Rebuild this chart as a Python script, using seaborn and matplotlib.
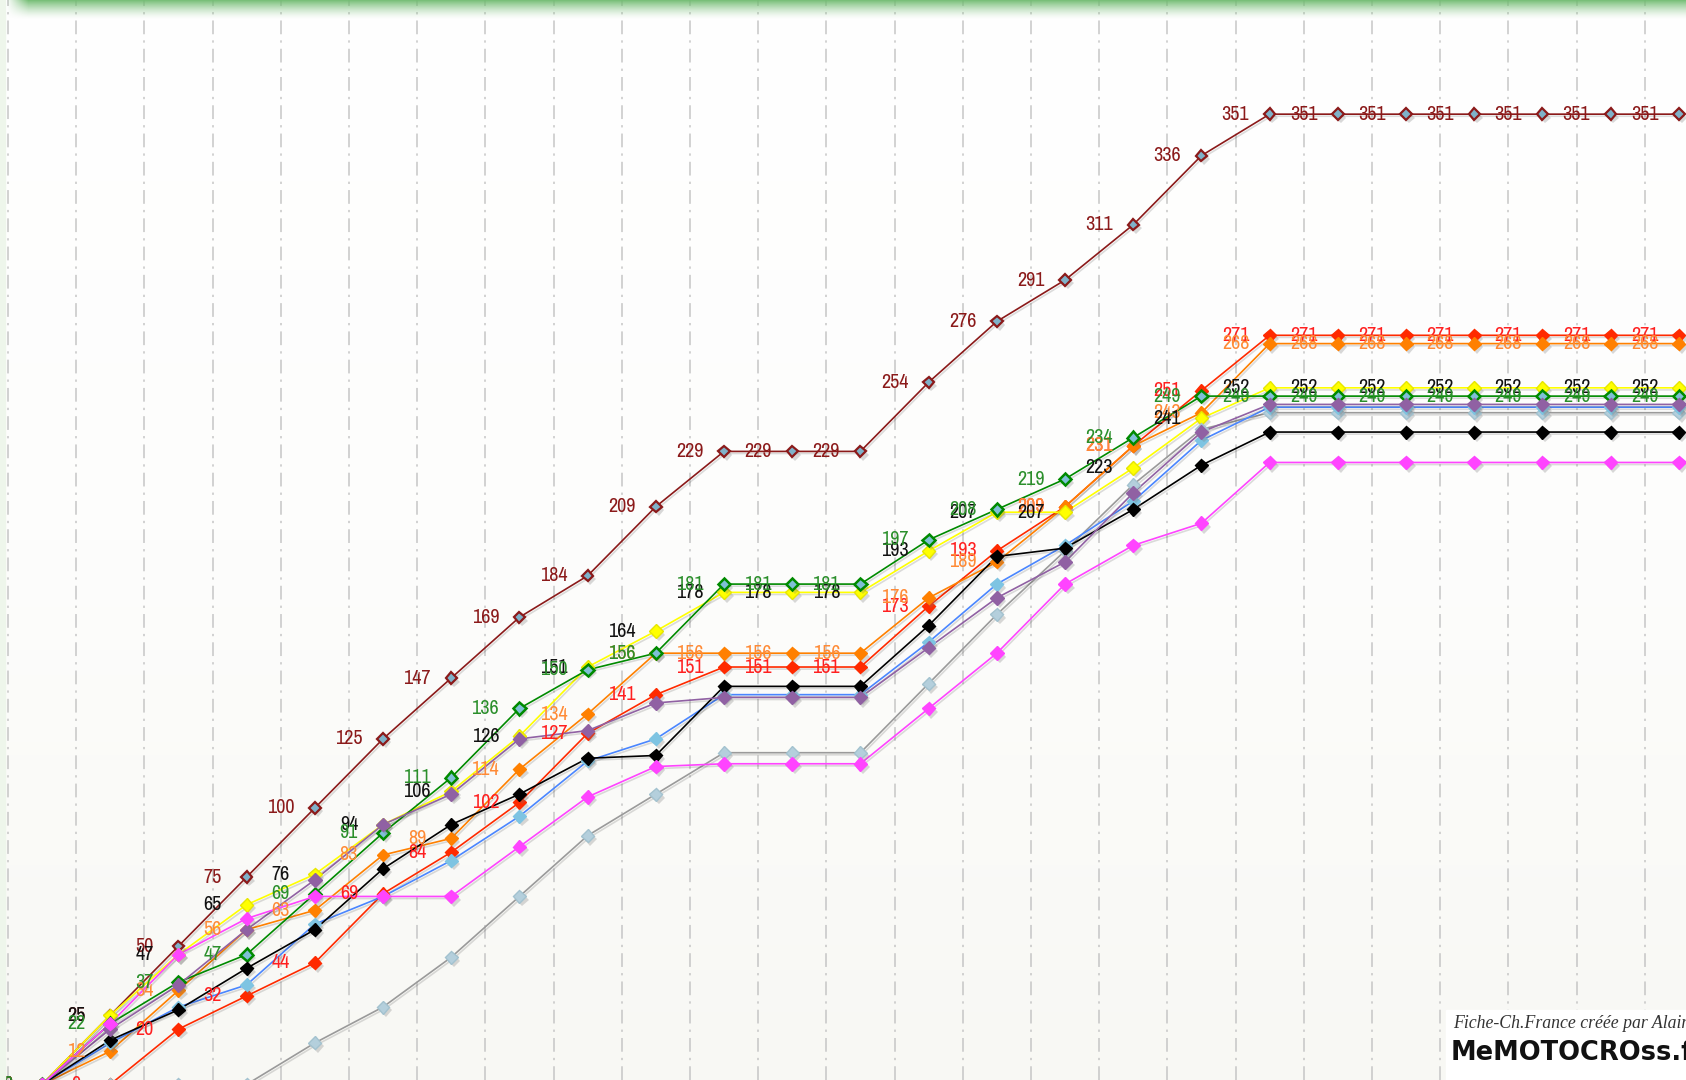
import numpy as np
import matplotlib
matplotlib.use('Agg')
import matplotlib.pyplot as plt
import matplotlib.patheffects as pe
from matplotlib.colors import LinearSegmentedColormap
from matplotlib.patches import Rectangle
import pandas as pd
import seaborn as sns

# cumulative points after each round (round 0 = start)
rounds = list(range(25))

darkred = [0, 25, 50, 75, 100, 125, 147, 169, 184, 209, 229, 229, 229, 254, 276, 291, 311, 336,
           351, 351, 351, 351, 351, 351, 351]
red = [0, 0, 20, 32, 44, 69, 84, 102, 127, 141, 151, 151, 151, 173, 193, 209, 231, 251,
       271, 271, 271, 271, 271, 271, 271]
orange = [0, 12, 34, 56, 63, 83, 89, 114, 134, 156, 156, 156, 156, 176, 189, 209, 231, 243,
          268, 268, 268, 268, 268, 268, 268]
yellow = [0, 25, 47, 65, 76, 94, 106, 126, 151, 164, 178, 178, 178, 193, 207, 207, 223, 241,
          252, 252, 252, 252, 252, 252, 252]
green = [0, 22, 37, 47, 69, 91, 111, 136, 150, 156, 181, 181, 181, 197, 208, 219, 234, 249,
         249, 249, 249, 249, 249, 249, 249]
gray = [0, 0, 0, 0, 15, 28, 46, 68, 90, 105, 120, 120, 120, 145, 170, 193, 217, 237,
        243, 243, 243, 243, 243, 243, 243]
blue = [0, 15, 28, 36, 58, 68, 81, 97, 117, 125, 141, 141, 141, 160, 181, 195, 211, 233,
        245, 245, 245, 245, 245, 245, 245]
black = [0, 16, 27, 42, 56, 78, 94, 105, 118, 119, 144, 144, 144, 166, 191, 194, 208, 224,
         236, 236, 236, 236, 236, 236, 236]
purple = [0, 20, 36, 56, 74, 94, 105, 125, 128, 138, 140, 140, 140, 158, 176, 189, 214, 236,
          246, 246, 246, 246, 246, 246, 246]
magenta = [0, 22, 47, 60, 68, 68, 68, 86, 104, 115, 116, 116, 116, 136, 156, 181, 195, 203,
           225, 225, 225, 225, 225, 225, 225]

# name, values, line colour, marker face, marker edge, marker size, edge width, label colour
series = [
    ('darkred', darkred, '#8b1a1a', '#7fb2c9', '#8b1a1a', 5.8, 1.6, '#8b1a1a'),
    ('red', red, '#ff2a00', '#ff2a00', '#ff2a00', 6.6, 1.0, '#ff2020'),
    ('orange', orange, '#ff8000', '#ff8000', '#ff8000', 6.6, 1.0, '#ff8a35'),
    ('yellow', yellow, '#ffff00', '#ffff00', '#e6e600', 6.9, 1.0, '#111111'),
    ('green', green, '#008a00', '#7fc0d6', '#008a00', 6.3, 1.8, '#2b8f2b'),
    ('gray', gray, '#9a9a9a', '#b4cfdc', '#a3c2cf', 6.6, 1.0, None),
    ('blue', blue, '#4a86ff', '#7ec4e2', '#7ec4e2', 6.6, 1.0, None),
    ('black', black, '#000000', '#000000', '#000000', 6.6, 1.0, None),
    ('purple', purple, '#9061a3', '#9061a3', '#9061a3', 6.9, 1.0, None),
    ('magenta', magenta, '#ff44ff', '#ff44ff', '#ff44ff', 6.9, 1.0, None),
]

sns.set_theme(style='white')
label_fonts = ['Liberation Sans Narrow', 'Arial Narrow', 'Archivo Narrow', 'PT Sans Narrow',
               'Roboto Condensed', 'DejaVu Sans']
plt.rcParams['font.family'] = ['DejaVu Sans']

fig = plt.figure(figsize=(16.86, 10.80), dpi=100)
ax = fig.add_axes([0, 0, 1, 1])

xmin, xmax = -0.616, 24.105
ymin, ymax = 1.6, 392.3

# soft background gradient
bg = LinearSegmentedColormap.from_list('bg', ['#ffffff', '#fdfdfc', '#f8f8f4'])
ax.imshow(np.linspace(0, 1, 256).reshape(-1, 1), extent=[xmin, xmax, ymin, ymax],
          origin='upper', aspect='auto', cmap=bg, zorder=0)

for name, vals, lc, mfc, mec, ms, mew, tc in series:
    df = pd.DataFrame({'round': rounds, 'pts': vals})
    sns.lineplot(data=df, x='round', y='pts', color=lc, lw=1.2, ax=ax, zorder=2,
                 legend=False)
    ax.lines[-1].set_path_effects([pe.SimpleLineShadow(offset=(1, -1.5), alpha=0.15),
                                   pe.Normal()])
    sns.lineplot(data=df, x='round', y='pts', color=lc, linestyle='', marker='D',
                 markersize=ms, markerfacecolor=mfc, markeredgecolor=mec,
                 markeredgewidth=mew, ax=ax, zorder=3, legend=False)
    ax.lines[-1].set_path_effects([pe.SimplePatchShadow(offset=(2, -2.5), alpha=0.28,
                                                        shadow_rgbFace='#777777'),
                                   pe.Normal()])

# value labels sit on the gridline left of each point
for name, vals, lc, mfc, mec, ms, mew, tc in series:
    if tc is None:
        continue
    for r, v in zip(rounds, vals):
        ax.text(r - 0.5, v, str(v), color=tc, fontsize=14.5, family=label_fonts,
                ha='center', va='center', zorder=5)

ax.set_xticks(np.arange(-0.5, 25, 1))
ax.set_yticks([])
ax.set_xlim(xmin, xmax)
ax.set_ylim(ymin, ymax)
ax.grid(axis='x', color='#c6c6c6', lw=1.1, ls=(0, (9, 4, 1.5, 4)), zorder=1)
ax.grid(axis='y', visible=False)
ax.tick_params(axis='x', length=0, labelbottom=False)
ax.set_xlabel('')
ax.set_ylabel('')
for s in ax.spines.values():
    s.set_visible(False)

# green header glow at the top
band_h = 20
top = fig.add_axes([0.0, 1 - band_h / 1080, 1, band_h / 1080])
rgba = np.zeros((band_h, 1686, 4))
rgba[..., 0] = 0.45
rgba[..., 1] = 0.74
rgba[..., 2] = 0.45
ay = np.linspace(1, 0, band_h) ** 1.5
ax_ramp = np.clip((np.arange(1686) - 6) / 22.0, 0, 1)
rgba[..., 3] = 0.95 * ay[:, None] * ax_ramp[None, :]
top.imshow(rgba, aspect='auto', interpolation='bilinear')
top.axis('off')

# faint green left edge
fig.patches.append(Rectangle((0, 0), 5 / 1686, 1, transform=fig.transFigure,
                             color='#eef6eb', zorder=0))

# watermark
fig.patches.append(Rectangle((1446 / 1686, 0), 1 - 1446 / 1686, 70 / 1080,
                             transform=fig.transFigure, color='white', zorder=10))
fig.text(1453 / 1686, 1 - 1024 / 1080, 'Fiche-Ch.France créée par Alain',
         family=['Liberation Serif', 'DejaVu Serif'], style='italic', fontsize=12.8,
         color='#333333', va='center', ha='left', zorder=11)
fig.text(1451 / 1686, 1 - 1053 / 1080, 'MeMOTOCROss.fr', family=['DejaVu Sans'],
         weight='bold', fontsize=18.5, color='#111111', va='center', ha='left', zorder=11)

fig.savefig('out.png', dpi=100)
